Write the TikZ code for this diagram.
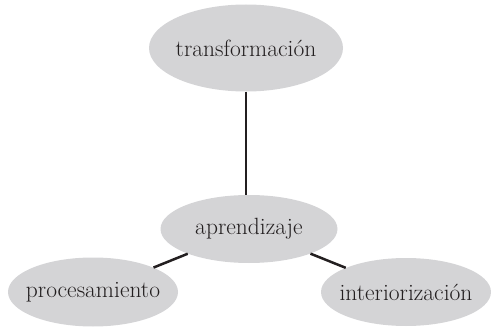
\documentclass[tikz,border=0pt]{standalone}
\usetikzlibrary{shapes.geometric}
\definecolor{bubblegray}{HTML}{D4D4D6}
\definecolor{inkgray}{HTML}{231F20}
\newcommand{\bubbletext}[1]{\makebox[0pt]{#1}}

\begin{document}
\begin{tikzpicture}[x=1pt,y=-1pt,
    concept/.style={ellipse, fill=bubblegray, draw=none, inner sep=0pt,
      text=inkgray, font=\fontsize{23.5}{28}\selectfont},
    link/.style={draw=inkgray, line width=2.5pt}]

    \useasboundingbox (0,0) rectangle (491,329);

    \node[concept, minimum width=194pt, minimum height=87pt] (transf) at (246,48) {\bubbletext{transformación}};
    \node[concept, minimum width=177pt, minimum height=68pt] (aprend) at (249,229) {\bubbletext{aprendizaje}};
    \node[concept, minimum width=170pt, minimum height=69pt] (proces) at (93,292) {\bubbletext{procesamiento}};
    \node[concept, minimum width=170pt, minimum height=68pt] (inter) at (406,292) {\bubbletext{interiorización}};

    \draw[link] (transf.south) -- (transf.south |- aprend.north);
    \draw[link] (aprend) -- (proces);
    \draw[link] (aprend) -- (inter);
    %
\end{tikzpicture}
\end{document}
